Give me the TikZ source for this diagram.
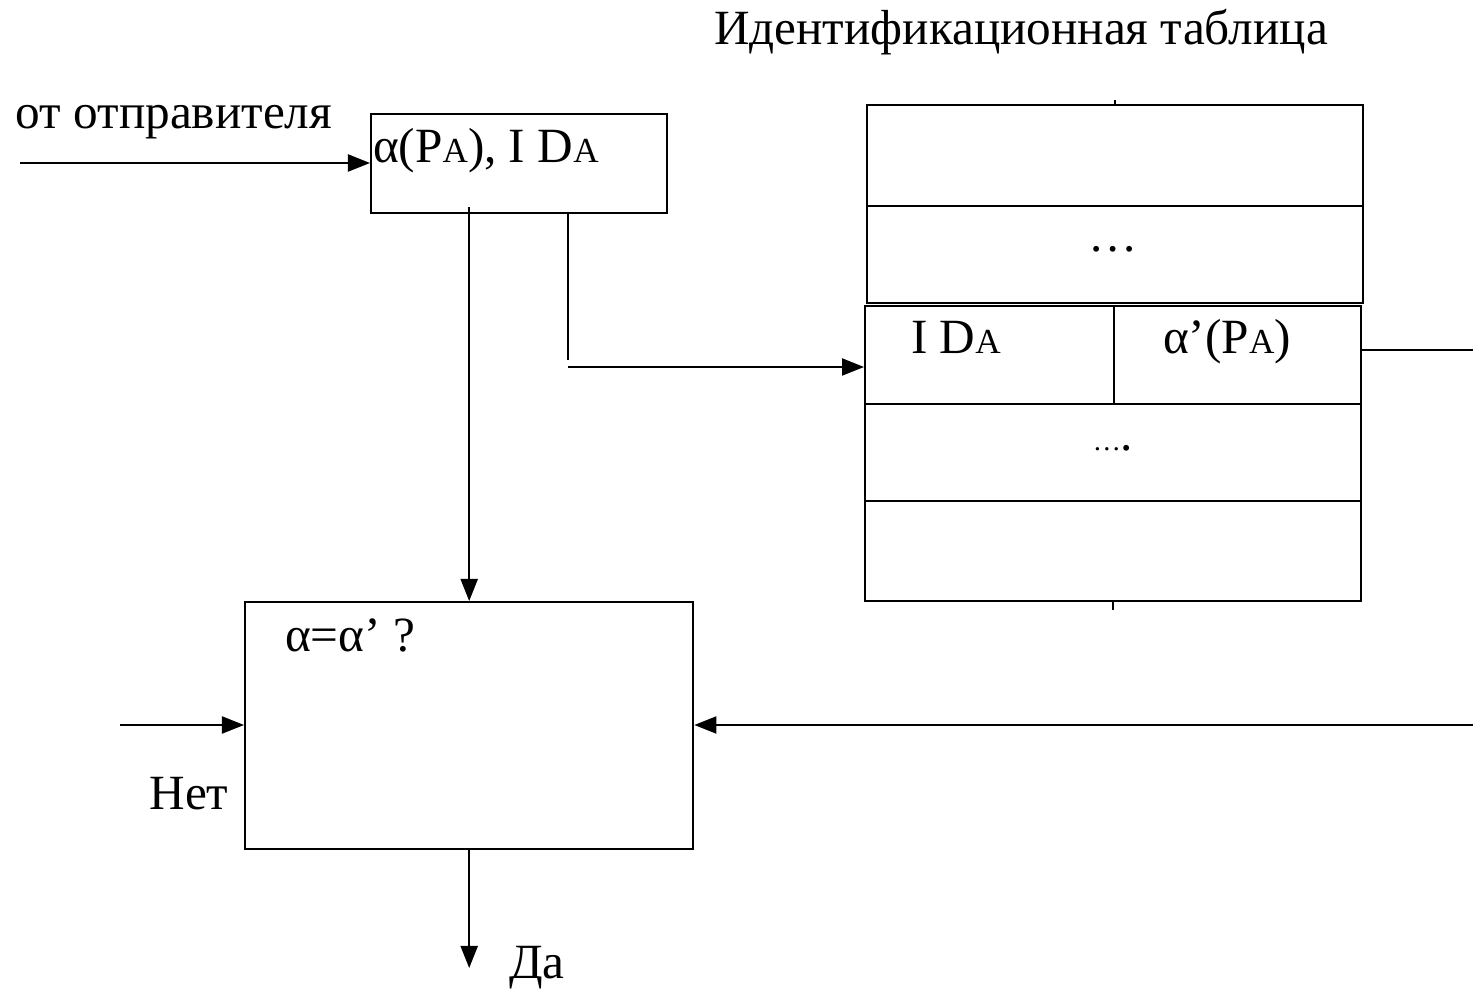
\documentclass[tikz,border=0pt]{standalone}
\usepackage{fontspec}
\setmainfont{Liberation Serif}
\usetikzlibrary{arrows.meta,positioning}
\newcommand{\smA}{{\fontsize{10}{12}\selectfont A}}
\begin{document}
\begin{tikzpicture}[x=0.01cm,y=-0.01cm,line width=0.6pt,
		every node/.style={inner sep=0pt,font=\fontsize{14}{16}\selectfont},
		box/.style={draw,anchor=north west},
		arr/.style={-{Triangle[length=0.22cm,width=0.17cm]}}]
		\useasboundingbox (0,0) rectangle (1473,989);
		% headings
		\node [anchor=base] (title) at (1021,45) {Идентификационная таблица};
		\node [anchor=base] (from) at (174,129) {от отправителя};
		% sender block
		\node [box,minimum width=2.96cm,minimum height=0.99cm] (snd) at (370,113) {};
		\node [anchor=base west] (sndtxt) at (372,163) {α(P\smA), I D\smA};
		\coordinate (src) at (20,163);
		\draw [arr] (src) -- (snd.west |- src);
		% table
		\node [box,minimum width=4.96cm,minimum height=1.01cm] (r1) at (866,104) {};
		\node [box,minimum width=4.96cm,minimum height=0.97cm] (r2) at (866,205) {};
		\node [anchor=base] (dotsa) at (1113,252) {…};
		\node [box,minimum width=2.49cm,minimum height=0.98cm] (r3a) at (864,305) {};
		\node [box,minimum width=2.47cm,minimum height=0.98cm] (r3b) at (1113,305) {};
		\node [anchor=base west] (id) at (910,354) {I D\smA};
		\node [anchor=base west] (key) at (1162,354) {α’(P\smA)};
		\node [box,minimum width=4.96cm,minimum height=0.97cm] (r4) at (864,403) {};
		\node [anchor=base] (dotsb) at (1113,451) {{\fontsize{8}{9}\selectfont …}.};
		\node [box,minimum width=4.96cm,minimum height=1.0cm] (r5) at (864,500) {};
		\draw (r1.north) -- ++(0,-4);
		\draw (r5.south) -- ++(0,8);
		\coordinate (outR) at (1473,350);
		\draw (r3b.east |- outR) -- (outR);
		% compare block
		\node [box,minimum width=4.48cm,minimum height=2.47cm] (cmp) at (244,601) {};
		\node [anchor=base west] (cond) at (284,652) {α=α’ ?};
		\draw [arr] ([yshift=2pt]cmp.north |- snd.south) -- (cmp.north);
		\coordinate (bend) at (568,360);
		\draw (snd.south -| bend) -- (bend);
		\coordinate (tblin) at (568,367);
		\draw [arr] (tblin) -- (r3a.west |- tblin);
		\coordinate (inR) at (1473,725);
		\draw [arr] (inR) -- (cmp.east |- inR);
		\coordinate (inL) at (120,725);
		\draw [arr] (inL) -- (cmp.west |- inL);
		\node [anchor=base] (no) at (189,810) {Нет};
		\coordinate (yes) at (468,968);
		\draw [arr] (cmp.south) -- (cmp.south |- yes);
		\node [anchor=base] (yestxt) at (537,978) {Да};
	\end{tikzpicture}
\end{document}
